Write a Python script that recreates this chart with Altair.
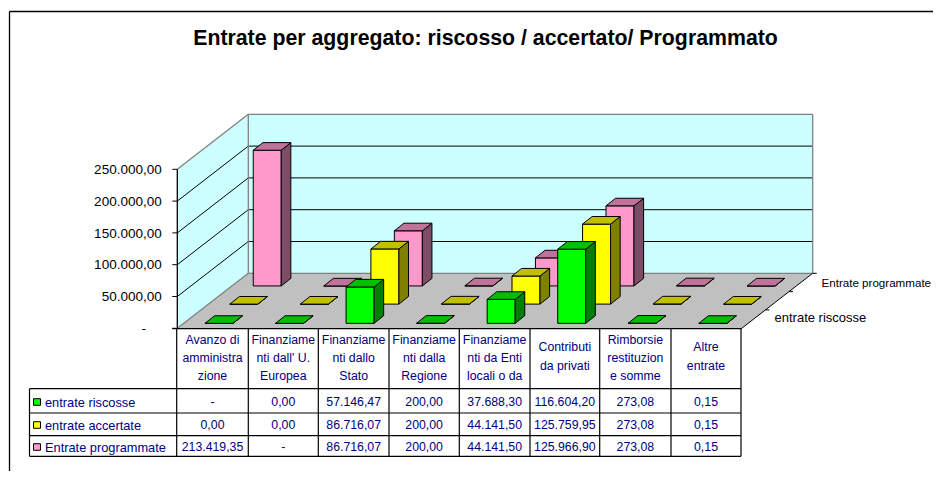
import altair as alt
import pandas as pd

# ---- values ----
title = "Entrate per aggregato: riscosso / accertato/ Programmato"
categories = [
    ["Avanzo di", "amministra", "zione"],
    ["Finanziame", "nti dall' U.", "Europea"],
    ["Finanziame", "nti dallo", "Stato"],
    ["Finanziame", "nti dalla", "Regione"],
    ["Finanziame", "nti da Enti", "locali o da"],
    ["Contributi", "da privati"],
    ["Rimborsie", "restituzion", "e somme"],
    ["Altre", "entrate"],
]
series_names = ["entrate riscosse", "entrate accertate", "Entrate programmate"]
riscosse = [0, 0.00, 57146.47, 200.00, 37688.30, 116604.20, 273.08, 0.15]
accertate = [0.00, 0.00, 86716.07, 200.00, 44141.50, 125759.95, 273.08, 0.15]
programmate = [213419.35, 0, 86716.07, 200.00, 44141.50, 125966.90, 273.08, 0.15]
riscosse_txt = ["-", "0,00", "57.146,47", "200,00", "37.688,30", "116.604,20", "273,08", "0,15"]
accertate_txt = ["0,00", "0,00", "86.716,07", "200,00", "44.141,50", "125.759,95", "273,08", "0,15"]
programmate_txt = ["213.419,35", "-", "86.716,07", "200,00", "44.141,50", "125.966,90", "273,08", "0,15"]
tick_values = [0, 50000, 100000, 150000, 200000, 250000]
tick_labels = ["-", "50.000,00", "100.000,00", "150.000,00", "200.000,00", "250.000,00"]
depth_labels = ["entrate riscosse", "Entrate programmate"]

# ---- projection ----
VMAX = 250000
X0, X1, Y0 = 177.3, 741.7, 328.3   # front edge of the floor
DX, DY = 71.0, 55.0                # depth vector
VH = 159.0                         # pixels from 0 to VMAX
CAT_W = (X1 - X0) / len(categories)
BAR_W, BAR_DX, BAR_DY = 28.0, 9.6, 7.6
ROW_T = [0.09, 0.44, 0.77]
W, H = 925, 463


def vy(v):
    return VH * v / VMAX


x_sc = alt.Scale(domain=[8, 8 + W], range=[0, W])
y_sc = alt.Scale(domain=[8, 8 + H], range=[0, H])
X = lambda f: alt.X(f, type="quantitative", scale=x_sc, axis=None)
Y = lambda f: alt.Y(f, type="quantitative", scale=y_sc, axis=None)

# ---- walls and floor ----
back_wall = pd.DataFrame([dict(x=X0 + DX, x2=X1 + DX, y=Y0 - DY - vy(VMAX), y2=Y0 - DY)])
left_wall = pd.DataFrame([
    dict(x=X0, y=Y0 - vy(VMAX), y2=Y0),
    dict(x=X0 + DX, y=Y0 - DY - vy(VMAX), y2=Y0 - DY),
])
floor = pd.DataFrame([
    dict(y=Y0, x=X0, x2=X1),
    dict(y=Y0 - DY, x=X0 + DX, x2=X1 + DX),
])
WALL = "#CCFFFF"
layers = [
    alt.Chart(back_wall).mark_rect(fill=WALL).encode(x=X("x"), x2=alt.X2("x2"), y=Y("y"), y2=alt.Y2("y2")),
    alt.Chart(left_wall).mark_area(fill=WALL, orient="vertical").encode(x=X("x"), y=Y("y"), y2=alt.Y2("y2")),
    alt.Chart(floor).mark_area(fill="#C0C0C0", orient="horizontal").encode(y=Y("y"), x=X("x"), x2=alt.X2("x2")),
]

# ---- lines (grid, wall edges, axes, table) ----
lines = []


def line(x, y, x2, y2, c="#000000", w=1.0):
    lines.append(dict(x=x, y=y, x2=x2, y2=y2, c=c, w=w))


GREY = "#808080"
for v in tick_values[1:-1]:
    line(X0, Y0 - vy(v), X0 + DX, Y0 - DY - vy(v))
    line(X0 + DX, Y0 - DY - vy(v), X1 + DX, Y0 - DY - vy(v))
line(X0, Y0, X0 + DX, Y0 - DY, GREY, 1.3)
line(X0 + DX, Y0 - DY, X1 + DX, Y0 - DY, GREY, 1.3)
line(X0 + DX, Y0 - DY, X0 + DX, Y0 - DY - vy(VMAX), GREY, 1.3)
line(X1 + DX, Y0 - DY, X1 + DX, Y0 - DY - vy(VMAX), GREY, 1.3)
line(X0, Y0 - vy(VMAX), X0 + DX, Y0 - DY - vy(VMAX), GREY, 1.3)
line(X0 + DX, Y0 - DY - vy(VMAX), X1 + DX, Y0 - DY - vy(VMAX), GREY, 1.3)
layers.append(
    alt.Chart(pd.DataFrame(lines)).mark_rule().encode(
        x=X("x"), y=Y("y"), x2=alt.X2("x2"), y2=alt.Y2("y2"),
        stroke=alt.Stroke("c:N", scale=None), strokeWidth=alt.StrokeWidth("w:Q", scale=None),
    )
)

# ---- 3D bars, back row first ----
styles = [
    ("#00FF00", "#008000", "#00C000"),
    ("#FFFF00", "#808000", "#C0C000"),
    ("#FF99CC", "#7F4C66", "#BF7399"),
]
rows = [riscosse, accertate, programmate]
for r in [2, 1, 0]:
    t = ROW_T[r]
    fronts, sides, tops = [], [], []
    for i, v in enumerate(rows[r]):
        cx = X0 + (i + 0.5) * CAT_W + DX * t
        base = Y0 - DY * t
        top = base - vy(v)
        l, rr = cx - BAR_W / 2, cx + BAR_W / 2
        fronts.append(dict(x=l, x2=rr, y=top, y2=base))
        sides.append(dict(id=i, x=rr, y=top, y2=base))
        sides.append(dict(id=i, x=rr + BAR_DX, y=top - BAR_DY, y2=base - BAR_DY))
        tops.append(dict(id=i, y=top, x=l, x2=rr))
        tops.append(dict(id=i, y=top - BAR_DY, x=l + BAR_DX, x2=rr + BAR_DX))
    front_c, side_c, top_c = styles[r]
    layers += [
        alt.Chart(pd.DataFrame(fronts)).mark_rect(fill=front_c, stroke="black", strokeWidth=1).encode(
            x=X("x"), x2=alt.X2("x2"), y=Y("y"), y2=alt.Y2("y2")),
        alt.Chart(pd.DataFrame(sides)).mark_area(fill=side_c, stroke="black", strokeWidth=1, orient="vertical").encode(
            x=X("x"), y=Y("y"), y2=alt.Y2("y2"), detail="id:N"),
        alt.Chart(pd.DataFrame(tops)).mark_area(fill=top_c, stroke="black", strokeWidth=1, orient="horizontal").encode(
            y=Y("y"), x=X("x"), x2=alt.X2("x2"), detail="id:N"),
    ]

# ---- frame, axes and table lines drawn above the bars ----
lines2 = []
lines = lines2
line(9.5, 11.5, 8 + W, 11.5, "#000000", 1.3)
line(9.5, 11.5, 9.5, 8 + H, "#000000", 1.3)
line(X0, Y0 - vy(VMAX), X0, Y0, "#000000", 1.3)
for v in tick_values:
    line(X0 - 5, Y0 - vy(v), X0, Y0 - vy(v))
line(X1, Y0, X1 + DX, Y0 - DY)
for k in range(1, 4):
    fx, fy = X1 + DX * k / 3, Y0 - DY * k / 3
    line(fx, fy, fx + 4, fy)
# table grid
V_LINES = [176.7, 248.3, 318.3, 389.0, 459.3, 530.0, 599.7, 671.0, 741.0]
H_LINES = [388.7, 413.0, 435.7, 456.3]
TOP_T = 328.6
LEFT_T = 29.5
line(X0 - 5, TOP_T, X1, TOP_T, "#000000", 1.3)
for x in V_LINES:
    line(x, TOP_T, x, H_LINES[-1], "#000000", 1.2)
for y in H_LINES:
    line(LEFT_T, y, V_LINES[-1], y, "#000000", 1.2)
line(LEFT_T, H_LINES[0], LEFT_T, H_LINES[-1], "#000000", 1.2)
layers.append(
    alt.Chart(pd.DataFrame(lines2)).mark_rule().encode(
        x=X("x"), y=Y("y"), x2=alt.X2("x2"), y2=alt.Y2("y2"),
        stroke=alt.Stroke("c:N", scale=None), strokeWidth=alt.StrokeWidth("w:Q", scale=None),
    )
)

# ---- legend keys ----
ROW_Y = [402.0, 425.0, 447.0]
keys = pd.DataFrame([
    dict(x=33.5, x2=40.5, y=ry - 3.3, y2=ry + 3.3, c=styles[k][0]) for k, ry in enumerate(ROW_Y)
])
layers.append(
    alt.Chart(keys).mark_rect(stroke="black", strokeWidth=1).encode(
        x=X("x"), x2=alt.X2("x2"), y=Y("y"), y2=alt.Y2("y2"), fill=alt.Fill("c:N", scale=None))
)

# ---- texts ----
FONT = "Liberation Sans"
NAVY = "#000080"
cells = []
for i, cat in enumerate(categories):
    cx = (V_LINES[i] + V_LINES[i + 1]) / 2
    y_start = 340.0 if len(cat) == 3 else 347.3
    step = 17.9 if len(cat) == 3 else 18.4
    for j, s in enumerate(cat):
        cells.append(dict(x=cx, y=y_start + j * step, s=s))
    for ry, col in zip(ROW_Y, [riscosse_txt, accertate_txt, programmate_txt]):
        cells.append(dict(x=cx, y=ry, s=col[i]))
layers.append(
    alt.Chart(pd.DataFrame(cells)).mark_text(font=FONT, fontSize=12.3, color=NAVY, align="center", baseline="middle").encode(
        x=X("x"), y=Y("y"), text="s:N")
)
legend_txt = pd.DataFrame([dict(x=45, y=ry + 1, s=n) for ry, n in zip(ROW_Y, series_names)])
layers.append(
    alt.Chart(legend_txt).mark_text(font=FONT, fontSize=12.8, color=NAVY, align="left", baseline="middle").encode(
        x=X("x"), y=Y("y"), text="s:N")
)
ticks_txt = pd.DataFrame([dict(x=161.7 if lab != "-" else 146, y=Y0 - vy(v) + 0.6, s=lab)
                          for v, lab in zip(tick_values, tick_labels)])
layers.append(
    alt.Chart(ticks_txt).mark_text(font=FONT, fontSize=13.5, color="#000000", align="right", baseline="middle").encode(
        x=X("x"), y=Y("y"), text="s:N")
)
depth_txt = pd.DataFrame([dict(x=774.5, y=318.3, s=depth_labels[0], fs=13), dict(x=821.5, y=283.7, s=depth_labels[1], fs=11.6)])
layers.append(
    alt.Chart(depth_txt).mark_text(font=FONT, color="#000000", align="left", baseline="middle").encode(
        x=X("x"), y=Y("y"), text="s:N", size=alt.Size("fs:Q", scale=None))
)
layers.append(
    alt.Chart(pd.DataFrame([dict(x=485.5, y=38.5, s=title)])).mark_text(
        font=FONT, fontSize=21.3, fontWeight="bold", color="#000000", align="center", baseline="middle"
    ).encode(x=X("x"), y=Y("y"), text="s:N")
)

chart = alt.layer(*layers).properties(
    width=W, height=H, padding=0, autosize=alt.AutoSizeParams(type="none"), background="white"
).configure_view(stroke=None)
chart.save("out.html", embed_options={"renderer": "svg", "actions": False})
